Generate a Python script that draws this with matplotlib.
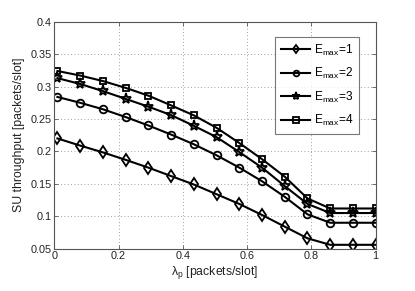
import numpy as np
import matplotlib
matplotlib.use("Agg")
import matplotlib.pyplot as plt

plt.rcParams['font.family'] = ['Liberation Sans', 'DejaVu Sans']
plt.rcParams['mathtext.fontset'] = 'custom'
plt.rcParams['mathtext.rm'] = 'Liberation Sans'
plt.rcParams['mathtext.it'] = 'Liberation Sans:italic'

lambda_p = np.linspace(0.01, 1.0, 15)
thr_e1 = [0.220, 0.209, 0.1985, 0.187, 0.175, 0.162, 0.149, 0.134, 0.119, 0.102, 0.084, 0.066, 0.056, 0.056, 0.056]
thr_e2 = [0.284, 0.275, 0.265, 0.253, 0.240, 0.226, 0.211, 0.194, 0.175, 0.154, 0.130, 0.103, 0.090, 0.090, 0.090]
thr_e3 = [0.313, 0.304, 0.293, 0.281, 0.269, 0.256, 0.2395, 0.222, 0.199, 0.175, 0.1465, 0.119, 0.105, 0.105, 0.105]
thr_e4 = [0.324, 0.317, 0.3085, 0.298, 0.286, 0.271, 0.2556, 0.2364, 0.213, 0.188, 0.161, 0.1275, 0.112, 0.112, 0.112]
series = [thr_e1, thr_e2, thr_e3, thr_e4]
labels = [r'E$_{\mathrm{max}}$=1', r'E$_{\mathrm{max}}$=2', r'E$_{\mathrm{max}}$=3', r'E$_{\mathrm{max}}$=4']
markers = ['d', 'o', '*', 's']
msizes = [6, 5.5, 8, 5]

fig = plt.figure(figsize=(4.15, 2.91), dpi=100)
ax = fig.add_axes([54.2/415, 1-248.7/291, (375.7-54.2)/415, (248.7-21.7)/291])

for y, lab, m, ms in zip(series, labels, markers, msizes):
    ax.plot(lambda_p, y, color='black', lw=1.5, marker=m, ms=ms,
            mfc='none', mec='black', mew=1.3, label=lab)

ax.set_xlim(0, 1)
ax.set_ylim(0.05, 0.4)
ax.set_xticks([0, 0.2, 0.4, 0.6, 0.8, 1])
ax.set_xticklabels(['0', '0.2', '0.4', '0.6', '0.8', '1'])
ax.set_yticks([0.05, 0.1, 0.15, 0.2, 0.25, 0.3, 0.35, 0.4])
ax.set_yticklabels(['0.05', '0.1', '0.15', '0.2', '0.25', '0.3', '0.35', '0.4'])
ax.grid(True, linestyle=(0, (1, 3)), color='#808080', linewidth=0.6)
for s in ax.spines.values():
    s.set_color('#555555')
    s.set_linewidth(0.8)
ax.tick_params(direction='in', length=3, width=0.6, colors='#555555', labelsize=7.8,
               labelcolor='#222222', top=True, right=True, pad=2)
ax.set_xlabel('λ$_{\\mathrm{p}}$ [packets/slot]', fontsize=8.8, labelpad=2, color='#222222')
ax.set_ylabel('SU throughput [packets/slot]', fontsize=8.8, labelpad=4, color='#222222')

leg = ax.legend(loc='upper right', bbox_to_anchor=(359.3/415, 1-36.7/291), bbox_transform=fig.transFigure,
                fontsize=8.6, frameon=True, fancybox=False, edgecolor='#555555',
                handlelength=2.5, borderpad=0.5, labelspacing=0.7, handletextpad=0.3,
                markerscale=0.75, borderaxespad=0)
leg.get_frame().set_linewidth(0.8)

fig.savefig('out.png', dpi=100)
